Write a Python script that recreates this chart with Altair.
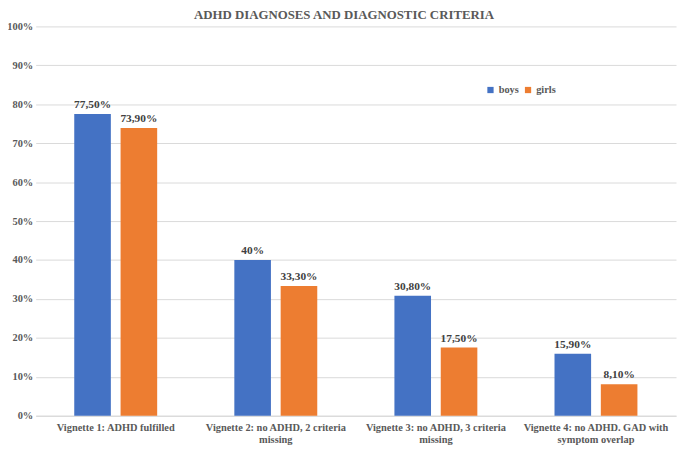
import altair as alt
import pandas as pd

categories = [
    "Vignette 1: ADHD fulfilled",
    "Vignette 2: no ADHD, 2 criteria\nmissing",
    "Vignette 3: no ADHD, 3 criteria\nmissing",
    "Vignette 4: no ADHD. GAD with\nsymptom overlap",
]
series = ["boys", "girls"]
boys = [77.5, 40.0, 30.8, 15.9]
girls = [73.9, 33.3, 17.5, 8.1]
boys_labels = ["77,50%", "40%", "30,80%", "15,90%"]
girls_labels = ["73,90%", "33,30%", "17,50%", "8,10%"]
colors = ["#4472C4", "#ED7D31"]

rows = []
for i, c in enumerate(categories):
    rows.append({"cat": c, "group": "boys", "value": boys[i], "label": boys_labels[i]})
    rows.append({"cat": c, "group": "girls", "value": girls[i], "label": girls_labels[i]})
df = pd.DataFrame(rows)

FONT = "Liberation Serif"
GRAY = "#595959"

x = alt.X("cat:N", sort=categories, title=None,
          scale=alt.Scale(paddingInner=0.482, paddingOuter=0.241),
          axis=alt.Axis(labelAngle=0, labelExpr="split(datum.label, '\\n')",
                        labelFont=FONT, labelFontSize=10.5, labelFontWeight="bold",
                        labelColor=GRAY, labelLineHeight=12.5, labelPadding=7,
                        ticks=False, domainColor="#d9d9d9", labelLimit=300))
xo = alt.XOffset("group:N", sort=series, scale=alt.Scale(paddingInner=0.21, paddingOuter=0))
y = alt.Y("value:Q", title=None,
          scale=alt.Scale(domain=[0, 100], nice=False),
          axis=alt.Axis(values=list(range(0, 101, 10)), labelExpr="datum.value + '%'",
                        labelFont=FONT, labelFontSize=10.5, labelFontWeight="bold",
                        labelColor=GRAY, labelPadding=3, ticks=False, domain=False,
                        gridColor="#d9d9d9", gridWidth=1))
color = alt.Color("group:N", sort=series, title=None,
                  scale=alt.Scale(domain=series, range=colors),
                  legend=alt.Legend(orient="none", legendX=455, legendY=59,
                                    direction="horizontal", symbolType="square",
                                    symbolSize=40, symbolStrokeWidth=0,
                                    labelFont=FONT, labelFontSize=10.5,
                                    labelFontWeight="bold", labelColor=GRAY,
                                    columnPadding=4, labelOffset=3))

bars = alt.Chart(df).mark_bar().encode(x=x, xOffset=xo, y=y, color=color)
text = alt.Chart(df).mark_text(baseline="bottom", dy=-4, font=FONT, fontSize=11.5,
                               fontWeight="bold", color="#404040").encode(
    x=x, xOffset=xo, y=y, text="label:N")

chart = (bars + text).properties(
    width=648, height=394,
    background="white",
    title=alt.TitleParams("ADHD DIAGNOSES AND DIAGNOSTIC CRITERIA", font=FONT,
                          fontSize=13, fontWeight="bold", color=GRAY, offset=3,
                          dx=-12, dy=4),
    autosize=alt.AutoSizeParams(type="none"),
    padding={"left": 28, "top": 16, "right": 1, "bottom": 28},
).configure_view(stroke=None)

chart.save("out.html", embed_options={"renderer": "svg", "actions": False})
